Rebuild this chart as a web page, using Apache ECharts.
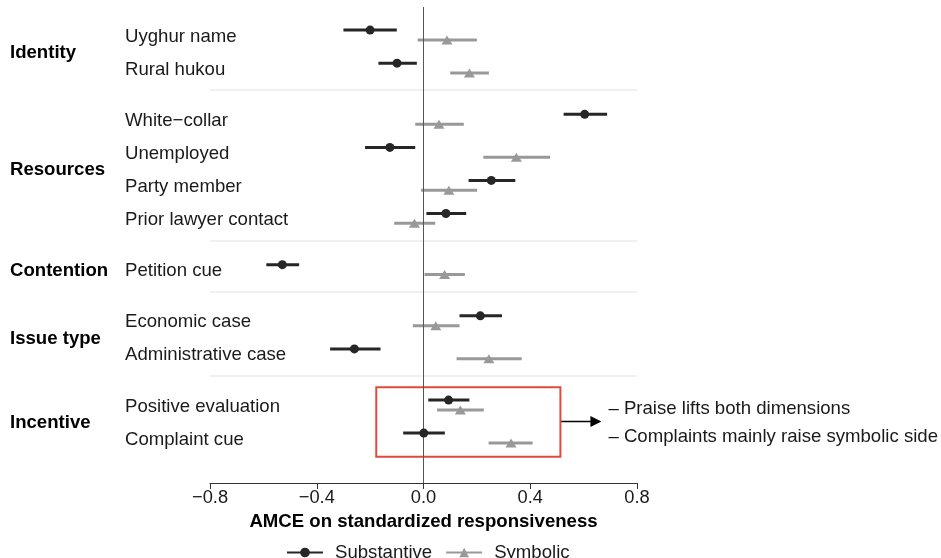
<!DOCTYPE html>
<html><head><meta charset="utf-8">
<script src="https://cdn.jsdelivr.net/npm/echarts@6/dist/echarts.min.js"></script>
<style>html,body{margin:0;padding:0;background:#fff}#c{width:941px;height:558px}</style>
</head><body><div id="c"></div>
<script>
// ---- data ----
const groups = ['Identity', 'Resources', 'Contention', 'Issue type', 'Incentive'];
const groupOf = [0, 0, 1, 1, 1, 1, 2, 3, 3, 4, 4];
const items = ['Uyghur name', 'Rural hukou', 'White\u2212collar', 'Unemployed', 'Party member', 'Prior lawyer contact', 'Petition cue', 'Economic case', 'Administrative case', 'Positive evaluation', 'Complaint cue'];
const subEst = [-0.200, -0.099, 0.604, -0.126, 0.254, 0.084, -0.529, 0.213, -0.259, 0.094, 0.001];
const subLo  = [-0.300, -0.169, 0.525, -0.219, 0.169, 0.011, -0.589, 0.135, -0.350, 0.018, -0.076];
const subHi  = [-0.100, -0.025, 0.688, -0.031, 0.344, 0.160, -0.466, 0.294, -0.161, 0.172, 0.080];
const symEst = [0.088, 0.172, 0.058, 0.348, 0.095, -0.034, 0.079, 0.046, 0.245, 0.138, 0.328];
const symLo  = [-0.022, 0.100, -0.031, 0.224, -0.009, -0.110, 0.004, -0.040, 0.124, 0.051, 0.244];
const symHi  = [0.200, 0.245, 0.151, 0.474, 0.201, 0.044, 0.155, 0.135, 0.368, 0.226, 0.409];
const xTicks = [-0.8, -0.4, 0, 0.4, 0.8];
const seriesNames = ['Substantive', 'Symbolic'];
const xTitle = 'AMCE on standardized responsiveness';
const notes = ['\u2013 Praise lifts both dimensions', '\u2013 Complaints mainly raise symbolic side'];
const highlightRows = [9, 10];
const boxX = [-0.177, 0.513];

// ---- layout ----
const GAP = 0.55, DODGE = 0.15, SEP_OFF = 0.67;
const FONT = '"Liberation Sans", Arial, Helvetica, sans-serif';
const FS = 18.6;
const SUB_C = '#262626', SYM_C = '#999999';
const pos = items.map((_, i) => i + GAP * groupOf[i]);
const nRowsMax = pos[pos.length - 1];
const seps = [];
for (let i = 0; i < items.length - 1; i++) if (groupOf[i] !== groupOf[i + 1]) seps.push(pos[i] + SEP_OFF);

function barSeries(name, lo, hi, off, color) {
  return {
    type: 'custom', name: name, silent: true,
    data: lo.map((l, i) => [l, hi[i], pos[i] + off]),
    encode: { x: [0, 1], y: 2 },
    renderItem: function (params, api) {
      const a = api.coord([api.value(0), api.value(2)]);
      const b = api.coord([api.value(1), api.value(2)]);
      return { type: 'line', shape: { x1: a[0], y1: a[1], x2: b[0], y2: b[1] }, style: { stroke: color, lineWidth: 3 } };
    }
  };
}

const chart = echarts.init(document.getElementById('c'), null, { renderer: 'canvas' });
const option = {
  animation: false,
  backgroundColor: '#fff',
  textStyle: { fontFamily: FONT },
  grid: { left: 210, right: 304, top: 7, bottom: 75 },
  xAxis: {
    type: 'value', min: xTicks[0], max: xTicks[xTicks.length - 1], interval: 0.4,
    axisLine: { show: true, onZero: false, lineStyle: { color: '#333', width: 1 } },
    axisTick: { show: true, length: 6, lineStyle: { color: '#333' } },
    splitLine: { show: false },
    axisLabel: { fontSize: 18.3, color: '#1a1a1a', margin: 6, fontFamily: FONT,
      formatter: v => (v < 0 ? '\u2212' : '') + Math.abs(v).toFixed(1) },
    name: xTitle, nameLocation: 'middle', nameGap: 29,
    nameTextStyle: { fontSize: FS, fontWeight: 'bold', color: '#000', fontFamily: FONT }
  },
  yAxis: { type: 'value', inverse: true, min: -0.85, max: nRowsMax + 1.36, show: false },
  legend: {
    data: seriesNames, top: 538, left: 281, itemWidth: 36, itemHeight: 12, itemGap: 13,
    textStyle: { fontSize: FS, color: '#1a1a1a', fontFamily: FONT, padding: [0, 0, 0, 7] }
  },
  series: [
    { type: 'line', name: seriesNames[0], data: [], symbol: 'circle', symbolSize: 9, itemStyle: { color: SUB_C }, lineStyle: { color: SUB_C, width: 3 } },
    { type: 'line', name: seriesNames[1], data: [], symbol: 'triangle', symbolSize: 11, itemStyle: { color: SYM_C }, lineStyle: { color: SYM_C, width: 3 } },
    Object.assign(barSeries(seriesNames[0], subLo, subHi, -DODGE, SUB_C), {
      markArea: { silent: true, itemStyle: { color: 'rgba(0,0,0,0)', borderColor: '#e2493b', borderWidth: 2 },
        data: [[{ coord: [boxX[0], pos[highlightRows[0]] - 0.535] }, { coord: [boxX[1], pos[highlightRows[1]] + 0.565] }]] }
    }),
    Object.assign(barSeries(seriesNames[1], symLo, symHi, DODGE, SYM_C), {
      markLine: { silent: true, symbol: 'none', label: { show: false },
        lineStyle: { color: '#ebebeb', width: 1.5, type: 'solid' },
        data: seps.map(s => ({ yAxis: s })) }
    }),
    { type: 'scatter', name: seriesNames[0], symbol: 'circle', symbolSize: 9, itemStyle: { color: SUB_C, opacity: 1 },
      data: subEst.map((v, i) => [v, pos[i] - DODGE]), z: 5,
      markLine: { silent: true, symbol: 'none', label: { show: false },
        lineStyle: { color: '#555', width: 1, type: 'solid' }, data: [{ xAxis: 0 }] } },
    { type: 'scatter', name: seriesNames[1], symbol: 'triangle', symbolSize: [11, 9], itemStyle: { color: SYM_C, opacity: 1 },
      data: symEst.map((v, i) => [v, pos[i] + DODGE]), z: 5 }
  ]
};
chart.setOption(option);

// ---- text labels & annotation via graphic, positioned through the axes ----
const g = [];
function txt(x, y, s, bold) {
  return { type: 'text', x: x, y: y, style: { text: s, font: (bold ? 'bold ' : '') + FS + 'px ' + FONT, fill: bold ? '#000' : '#1a1a1a', verticalAlign: 'middle', align: 'left' } };
}
items.forEach((name, i) => {
  const y = chart.convertToPixel({ yAxisIndex: 0 }, pos[i]);
  g.push(txt(125, y + 1.5, name, false));
});
groups.forEach((name, gi) => {
  const rows = pos.filter((_, i) => groupOf[i] === gi);
  const mid = (rows[0] + rows[rows.length - 1]) / 2;
  const y = chart.convertToPixel({ yAxisIndex: 0 }, mid);
  g.push(txt(10, y + 1.5, name, true));
});
const ax1 = chart.convertToPixel({ xAxisIndex: 0 }, boxX[1]);
const ay = chart.convertToPixel({ yAxisIndex: 0 }, (pos[highlightRows[0]] + pos[highlightRows[1]]) / 2);
g.push({ type: 'line', shape: { x1: ax1, y1: ay, x2: ax1 + 32, y2: ay }, style: { stroke: '#000', lineWidth: 1.5 } });
g.push({ type: 'polygon', shape: { points: [[ax1 + 30, ay - 5.5], [ax1 + 41, ay], [ax1 + 30, ay + 5.5]] }, style: { fill: '#000' } });
g.push(txt(ax1 + 48, ay - 13, notes[0], false));
g.push(txt(ax1 + 48, ay + 15.5, notes[1], false));
chart.setOption({ graphic: g });
</script>
</body></html>
